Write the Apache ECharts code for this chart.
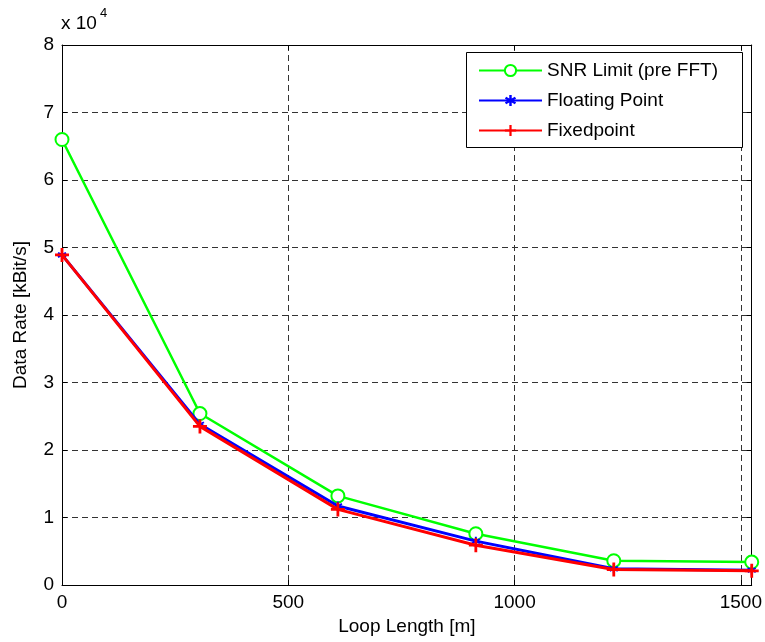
<!DOCTYPE html>
<html>
<head>
<meta charset="utf-8">
<script src="https://cdn.jsdelivr.net/npm/echarts@6/dist/echarts.min.js"></script>
<style>html,body{margin:0;padding:0;background:#fff}#c{width:765px;height:642px}</style>
</head>
<body>
<div id="c"></div>
<script>
const loopLength = [0, 304.8, 609.6, 914.4, 1219.2, 1524];
const snrLimit   = [66000, 25400, 13200, 7600, 3600, 3400];
const floating   = [48900, 23800, 11700, 6500, 2400, 2200];
const fixedpoint = [48900, 23500, 11200, 5900, 2300, 2100];
const seriesNames = ['SNR Limit (pre FFT)', 'Floating Point', 'Fixedpoint'];
const xTicks = [0, 500, 1000, 1500];
const yTickLabels = ['0','1','2','3','4','5','6','7','8'];

const FONT = "'Liberation Sans', Arial, Helvetica, sans-serif";
const FS = 19;
const pair = (xs, ys) => xs.map((x, i) => [x, ys[i]]);
const PLUS = 'path://M4,0H6V4H10V6H6V10H4V6H0V4H4Z';
const STAR = 'path://M4,0H6V3.2L8.6,1.7L9.6,3.4L7,5L9.6,6.6L8.6,8.3L6,6.8V10H4V6.8L1.4,8.3L0.4,6.6L3,5L0.4,3.4L1.4,1.7L4,3.2Z';

const chart = echarts.init(document.getElementById('c'), null, {renderer: 'canvas'});
const gridLine = {show: true, lineStyle: {color: '#333', type: [6, 4], width: 1}};
const axisLineS = {show: true, onZero: false, lineStyle: {color: '#000', width: 1}};
const ticks = {show: true, inside: true, length: 5, lineStyle: {color: '#000'}};

chart.setOption({
  animation: false,
  backgroundColor: '#fff',
  textStyle: {fontFamily: FONT},
  grid: {left: 62, right: 13, top: 45, bottom: 57},
  xAxis: [{
    type: 'value', min: 0, max: 1524, interval: 500,
    axisLine: axisLineS, axisTick: ticks, splitLine: gridLine,
    axisLabel: {color: '#000', fontSize: FS, fontFamily: FONT, margin: 8,
      formatter: v => xTicks.includes(v) ? String(v) : ''},
    name: 'Loop Length [m]', nameLocation: 'middle', nameGap: 30,
    nameTextStyle: {color: '#000', fontSize: FS, fontFamily: FONT}
  }, {
    type: 'value', position: 'top', min: 0, max: 1524, interval: 500,
    axisLine: axisLineS, axisTick: ticks, splitLine: {show: false},
    axisLabel: {show: false}
  }],
  yAxis: [{
    type: 'value', min: 0, max: 80000, interval: 10000,
    axisLine: axisLineS, axisTick: ticks, splitLine: gridLine,
    axisLabel: {color: '#000', fontSize: FS, fontFamily: FONT, margin: 8,
      formatter: v => yTickLabels[Math.round(v / 10000)]},
    name: 'Data Rate [kBit/s]', nameLocation: 'middle', nameGap: 32,
    nameTextStyle: {color: '#000', fontSize: FS, fontFamily: FONT}
  }, {
    type: 'value', position: 'right', min: 0, max: 80000, interval: 10000,
    axisLine: axisLineS, axisTick: ticks, splitLine: {show: false},
    axisLabel: {show: false}
  }],
  legend: {
    orient: 'vertical', left: 466, top: 52, z: 10,
    padding: [9, 8, 8, 12], itemGap: 11, itemWidth: 63, itemHeight: 14,
    textStyle: {color: '#000', fontSize: FS, fontFamily: FONT},
    data: seriesNames
  },
  graphic: [
    {type: 'rect', z: 9, shape: {x: 466.5, y: 52.5, width: 276, height: 95},
     style: {fill: '#fff', stroke: '#000', lineWidth: 1}},
    {type: 'text', left: 61, top: 14, style: {text: 'x 10', fontSize: 19, fontFamily: FONT, fill: '#000'}},
    {type: 'text', left: 100, top: 7, style: {text: '4', fontSize: 13, fontFamily: FONT, fill: '#000'}}
  ],
  series: [{
    name: seriesNames[0], type: 'line', data: pair(loopLength, snrLimit),
    symbol: 'emptyCircle', symbolSize: 13, showAllSymbol: true,
    lineStyle: {color: '#00ff00', width: 2.5},
    itemStyle: {color: '#00ff00', borderColor: '#00ff00', borderWidth: 2.5}, z: 2
  }, {
    name: seriesNames[1], type: 'line', data: pair(loopLength, floating),
    symbol: STAR, symbolSize: 9, showAllSymbol: true,
    lineStyle: {color: '#0000ff', width: 3},
    itemStyle: {color: '#0000ff'}, z: 3
  }, {
    name: seriesNames[2], type: 'line', data: pair(loopLength, fixedpoint),
    symbol: PLUS, symbolSize: 14, showAllSymbol: true,
    lineStyle: {color: '#ff0000', width: 3},
    itemStyle: {color: '#ff0000'}, z: 4
  }]
});
</script>
</body>
</html>
